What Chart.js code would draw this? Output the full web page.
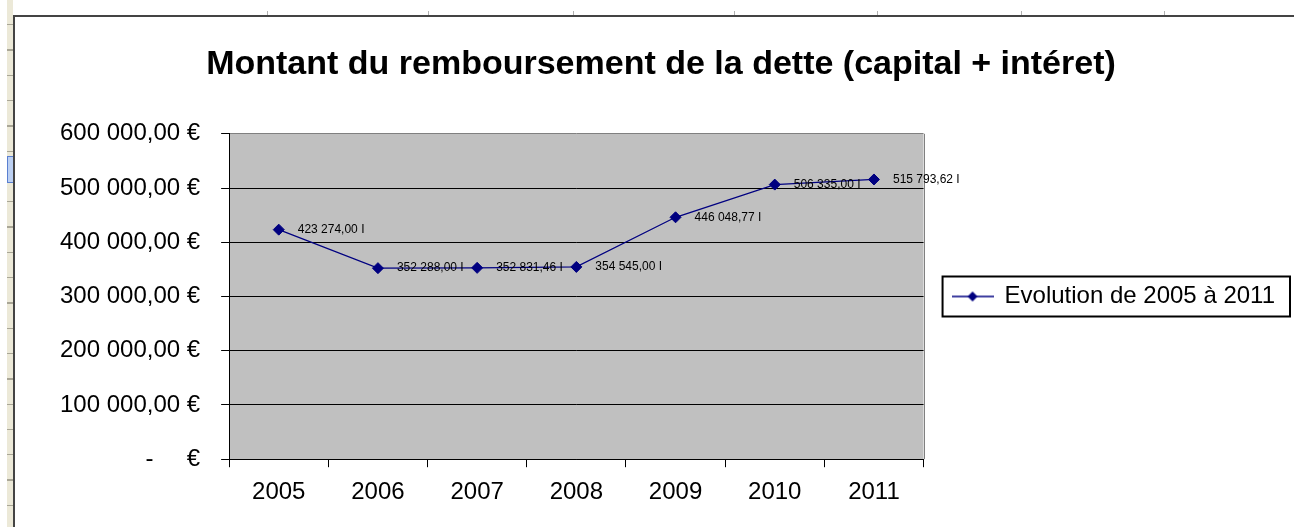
<!DOCTYPE html>
<html lang="fr">
<head>
<meta charset="utf-8">
<title>Montant du remboursement de la dette</title>
<script src="https://cdn.jsdelivr.net/npm/chart.js@4/dist/chart.umd.min.js"></script>
<style>
    html, body { margin: 0; padding: 0; background: #fff; }
    #wrap { position: relative; width: 1294px; height: 527px; overflow: hidden; }
    /* spreadsheet bits around the chart object */
    #gutter { position: absolute; left: 7px; top: 0; width: 6px; height: 527px; background: #ece9d8;
        background-image: repeating-linear-gradient(to bottom, transparent 0, transparent 24px, #a9a696 24px, #a9a696 25.3px); }
    #sel { position: absolute; left: 7px; top: 156px; width: 7px; height: 27px; background: #bcd0f2; border: 1px solid #5a7fd0; box-sizing: border-box; }
    #frameL { position: absolute; left: 13px; top: 15px; width: 2px; height: 512px; background: #444; }
    #frameT { position: absolute; left: 13px; top: 15px; width: 1281px; height: 2px; background: #444; }
    .col { position: absolute; top: 11px; width: 1px; height: 4px; background: #b0b0b0; }
    canvas { position: absolute; left: 0; top: 0; }
</style>
</head>
<body>
<div id="wrap">
    <div id="gutter"></div>
    <div id="sel"></div>
    <div id="frameL"></div>
    <div id="frameT"></div>
    <div class="col" style="left:267px"></div>
    <div class="col" style="left:428px"></div>
    <div class="col" style="left:573px"></div>
    <div class="col" style="left:734px"></div>
    <div class="col" style="left:877px"></div>
    <div class="col" style="left:1021px"></div>
    <div class="col" style="left:1164px"></div>
    <canvas id="detteChart" width="1294" height="527"></canvas>
</div>
<script>
// Montant du remboursement de la dette, 2005 - 2011

const years = ['2005', '2006', '2007', '2008', '2009', '2010', '2011'];
const montants = [423274.00, 352288.00, 352831.46, 354545.00, 446048.77, 506335.00, 515793.62];
const yTicks = [0, 100000, 200000, 300000, 400000, 500000, 600000];
const seriesLabel = 'Evolution de 2005 à 2011';
const titleText = 'Montant du remboursement de la dette (capital + intéret)';

const FONT = "Arial, 'Liberation Sans', sans-serif";
const NAVY = '#000080';

// 423274 -> "423 274,00"
function frNum(v) {
    const parts = v.toFixed(2).split('.');
    return parts[0].replace(/\B(?=(\d{3})+(?!\d))/g, ' ') + ',' + parts[1];
}

// legend marker: line with a diamond in the middle
function makeMarker() {
    const c = document.createElement('canvas');
    c.width = 42;
    c.height = 14;
    const g = c.getContext('2d');
    g.strokeStyle = NAVY;
    g.lineWidth = 1.5;
    g.beginPath();
    g.moveTo(0, 7);
    g.lineTo(42, 7);
    g.stroke();
    g.fillStyle = NAVY;
    g.beginPath();
    g.moveTo(21, 2);
    g.lineTo(26, 7);
    g.lineTo(21, 12);
    g.lineTo(16, 7);
    g.closePath();
    g.fill();
    return c;
}

// grey plot background with its grey top/right edges
const plotBackground = {
    id: 'plotBackground',
    beforeDraw(chart) {
        const a = chart.chartArea;
        const ctx = chart.ctx;
        ctx.save();
        ctx.fillStyle = '#c0c0c0';
        ctx.fillRect(a.left, a.top, a.right - a.left, a.bottom - a.top);
        ctx.strokeStyle = '#808080';
        ctx.lineWidth = 1;
        ctx.beginPath();
        ctx.moveTo(Math.round(a.right) + 0.5, a.top);
        ctx.lineTo(Math.round(a.right) + 0.5, a.bottom);
        ctx.stroke();
        ctx.restore();
    }
};

// value labels right of every point
const valueLabels = {
    id: 'valueLabels',
    afterDatasetsDraw(chart) {
        const ctx = chart.ctx;
        const meta = chart.getDatasetMeta(0);
        ctx.save();
        ctx.font = '12px ' + FONT;
        ctx.fillStyle = '#000';
        ctx.textAlign = 'left';
        ctx.textBaseline = 'middle';
        meta.data.forEach(function(pt, i) {
            ctx.fillText(frNum(montants[i]) + ' I', pt.x + 19, pt.y);
        });
        ctx.restore();
    }
};

// black frame round the legend entry
const legendFrame = {
    id: 'legendFrame',
    afterDraw(chart) {
        const hb = chart.legend && chart.legend.legendHitBoxes[0];
        if (!hb) return;
        const ctx = chart.ctx;
        ctx.save();
        ctx.strokeStyle = '#000';
        ctx.lineWidth = 2;
        ctx.strokeRect(hb.left - 10, hb.top - 8, hb.width + 25, hb.height + 16);
        ctx.restore();
    }
};

new Chart(document.getElementById('detteChart'), {
    type: 'line',
    data: {
        labels: years,
        datasets: [{
            label: seriesLabel,
            data: montants,
            borderColor: NAVY,
            backgroundColor: NAVY,
            borderWidth: 1.25,
            tension: 0,
            pointStyle: 'rectRot',
            pointRadius: 5.5,
            pointBorderWidth: 1,
            pointBackgroundColor: NAVY,
            pointBorderColor: NAVY
        }]
    },
    options: {
        responsive: false,
        animation: false,
        layout: {
            padding: { left: 37, right: 9, top: 44, bottom: 9 }
        },
        plugins: {
            title: {
                display: true,
                text: titleText,
                color: '#000',
                font: { family: FONT, size: 34, weight: 'bold' },
                padding: { top: 0, bottom: 49 }
            },
            legend: {
                display: true,
                position: 'right',
                fullSize: false,
                maxWidth: 400,
                labels: {
                    color: '#000',
                    font: { family: FONT, size: 24 },
                    usePointStyle: true,
                    pointStyle: makeMarker(),
                    pointStyleWidth: 40,
                    padding: 29
                }
            },
            tooltip: { enabled: false }
        },
        scales: {
            x: {
                offset: true,
                grid: {
                    display: true,
                    offset: true,
                    drawOnChartArea: false,
                    color: '#000',
                    tickLength: 8
                },
                border: { color: '#000', width: 1 },
                ticks: {
                    color: '#000',
                    padding: 11,
                    font: { family: FONT, size: 24 }
                }
            },
            y: {
                min: 0,
                max: 600000,
                afterBuildTicks: function(scale) {
                    scale.ticks = yTicks.map(function(v) { return { value: v }; });
                },
                afterFit: function(scale) {
                    scale.width += 2;
                },
                grid: {
                    color: function(context) {
                        return context.tick && context.tick.value === 600000 ? '#808080' : '#000';
                    },
                    tickColor: '#000',
                    lineWidth: 1,
                    tickLength: 8
                },
                border: { color: '#000', width: 1 },
                ticks: {
                    color: '#000',
                    padding: 21,
                    font: { family: FONT, size: 24 },
                    callback: function(value) {
                        return value === 0 ? '-     €' : frNum(value) + ' €';
                    }
                }
            }
        }
    },
    plugins: [plotBackground, valueLabels, legendFrame]
});
</script>
</body>
</html>
